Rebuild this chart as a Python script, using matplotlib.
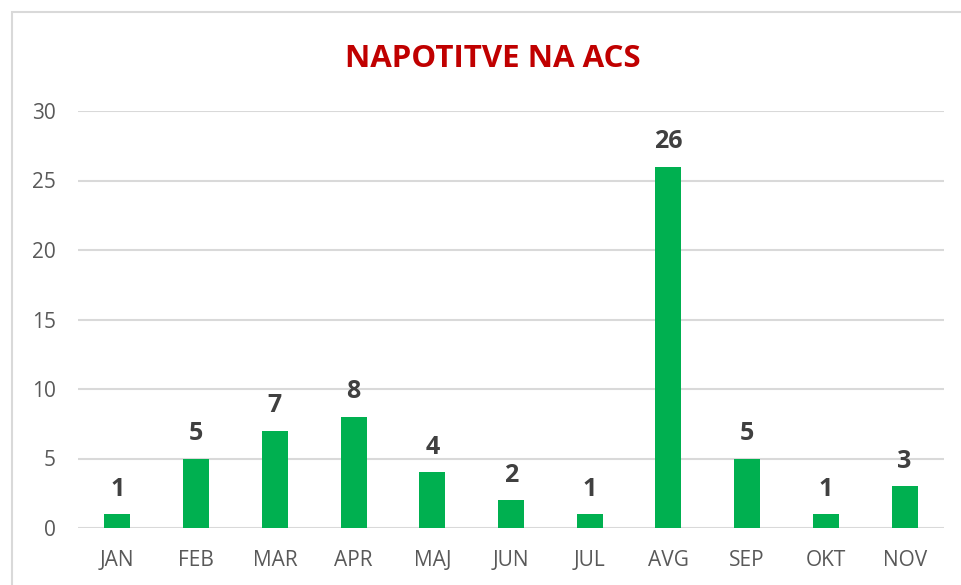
import matplotlib
matplotlib.use("Agg")
import matplotlib.pyplot as plt
from matplotlib.patches import Rectangle
import numpy as np

plt.rcParams["font.family"] = ["Open Sans", "DejaVu Sans"]

months = ["JAN", "FEB", "MAR", "APR", "MAJ", "JUN", "JUL", "AVG", "SEP", "OKT", "NOV"]
counts = [1, 5, 7, 8, 4, 2, 1, 26, 5, 1, 3]
yticks = [0, 5, 10, 15, 20, 25, 30]

GREEN = "#00B050"
RED = "#C00000"
GRID = "#D9D9D9"
TICK = "#595959"
LABEL = "#404040"

W, H = 961, 585
fig = plt.figure(figsize=(W / 100, H / 100), dpi=100)

# chart frame (partly cut off at right and bottom, as in the screenshot)
fig.patches.append(Rectangle((12 / W, -0.05), 1.1, 1 - 12 / H + 0.05,
                             transform=fig.transFigure, facecolor="white",
                             edgecolor=GRID, linewidth=1.5, zorder=-1))

ax = fig.add_axes([78 / W, 1 - 528 / H, (944 - 78) / W, (528 - 111) / H])
ax.set_facecolor("none")

x = np.arange(len(months))
bars = ax.bar(x, counts, width=0.33, color=GREEN, zorder=3)
for bar, v in zip(bars, counts):
    ax.annotate(str(v), (bar.get_x() + bar.get_width() / 2, v),
                xytext=(0, 9), textcoords="offset points",
                ha="center", va="bottom", fontsize=18, fontweight="bold",
                color=LABEL)

ax.set_xlim(-0.5, len(months) - 0.5)
ax.set_ylim(0, 30)
ax.set_yticks(yticks)
ax.set_xticks(x)
ax.set_xticklabels(months)
ax.tick_params(axis="both", length=0, labelsize=15, labelcolor=TICK)
ax.tick_params(axis="x", pad=16)
ax.tick_params(axis="y", pad=16)
ax.grid(axis="y", color=GRID, linewidth=1.5, zorder=0)
for s in ax.spines.values():
    s.set_visible(False)

fig.text(493 / W, 1 - 59 / H, "NAPOTITVE NA ACS", ha="center", va="center",
         fontsize=22.5, fontweight="bold", color=RED)

fig.savefig("out.png", dpi=100)
